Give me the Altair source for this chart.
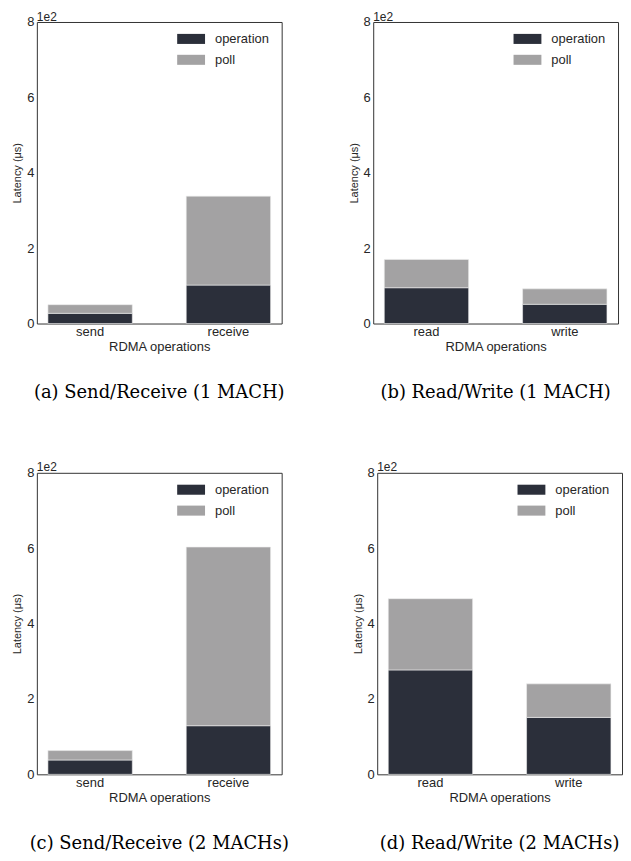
import altair as alt
import pandas as pd

series = ["operation", "poll"]

cats_a = ["send", "receive"]
op_a = [27, 102]
poll_a = [23, 236]

cats_b = ["read", "write"]
op_b = [95, 51]
poll_b = [75, 41]

cats_c = ["send", "receive"]
op_c = [38, 129]
poll_c = [25, 474]

cats_d = ["read", "write"]
op_d = [277, 151]
poll_d = [189, 89]

captions = [
    "(a) Send/Receive (1 MACH)",
    "(b) Read/Write (1 MACH)",
    "(c) Send/Receive (2 MACHs)",
    "(d) Read/Write (2 MACHs)",
]

DARK = "#2b2f3a"
GREY = "#a3a2a3"
SANS = "Liberation Sans"
SERIF = "DejaVu Serif"
TXT = "#262626"


def panel(cats, op, poll, caption):
    rows = []
    for c, o, p in zip(cats, op, poll):
        rows.append({"cat": c, "series": "operation", "value": o, "ord": 0})
        rows.append({"cat": c, "series": "poll", "value": p, "ord": 1})
    df = pd.DataFrame(rows)
    bars = alt.Chart(df).mark_bar(stroke="#eeeeee", strokeWidth=0.6).encode(
        x=alt.X(
            "cat:N",
            sort=cats,
            scale=alt.Scale(paddingInner=0.39, paddingOuter=0.08),
            axis=alt.Axis(
                title="RDMA operations",
                labelAngle=0,
                ticks=False,
                domain=False,
                labelPadding=2,
                titlePadding=2,
                labelFontSize=13,
                titleFontSize=13,
                labelFont=SANS,
                titleFont=SANS,
                labelColor=TXT,
                titleColor=TXT,
                titleFontWeight="normal",
            ),
        ),
        y=alt.Y(
            "value:Q",
            stack="zero",
            scale=alt.Scale(domain=[0, 800], nice=False),
            axis=alt.Axis(
                values=[0, 200, 400, 600, 800],
                labelExpr="format(datum.value / 100, 'd')",
                title="Latency (μs)",
                ticks=False,
                domain=False,
                grid=False,
                labelPadding=3,
                titlePadding=4,
                labelFontSize=13,
                titleFontSize=11,
                labelFont=SANS,
                titleFont=SANS,
                labelColor=TXT,
                titleColor=TXT,
                titleFontWeight="normal",
            ),
        ),
        color=alt.Color(
            "series:N",
            scale=alt.Scale(domain=series, range=[DARK, GREY]),
            legend=alt.Legend(
                orient="none",
                legendX=141,
                legendY=3,
                title=None,
                symbolType="M-1,-0.36L1,-0.36L1,0.36L-1,0.36Z",
                symbolSize=784,
                symbolStrokeWidth=0,
                labelFontSize=13,
                labelFont=SANS,
                labelColor=TXT,
                rowPadding=-9,
                labelOffset=10,
                padding=0,
            ),
        ),
        order=alt.Order("ord:Q"),
    )
    off = alt.Chart(pd.DataFrame({"t": ["1e2"]})).mark_text(
        align="left", baseline="alphabetic", fontSize=12, font=SANS, color=TXT
    ).encode(text="t:N", x=alt.value(0), y=alt.value(-1.5))
    return alt.layer(bars, off).properties(
        width=246,
        height=303,
        title=alt.TitleParams(
            caption,
            orient="bottom",
            font=SERIF,
            fontSize=18,
            fontWeight="normal",
            color="#000000",
            offset=31,
            anchor="middle",
        ),
    )


pa = panel(cats_a, op_a, poll_a, captions[0])
pb = panel(cats_b, op_b, poll_b, captions[1])
pc = panel(cats_c, op_c, poll_c, captions[2])
pd_ = panel(cats_d, op_d, poll_d, captions[3])

row1 = alt.hconcat(pa, pb, spacing=62).resolve_scale(color="independent")
row2 = alt.hconcat(pc, pd_, spacing=62).resolve_scale(color="independent")

chart = (
    alt.vconcat(row1, row2, spacing=58)
    .resolve_scale(color="independent")
    .properties(padding={"left": 3, "top": 0, "right": 0, "bottom": 0})
    .configure_view(stroke="#333333", strokeWidth=1)
)

chart.save("out.html", embed_options={"renderer": "svg", "actions": False})
